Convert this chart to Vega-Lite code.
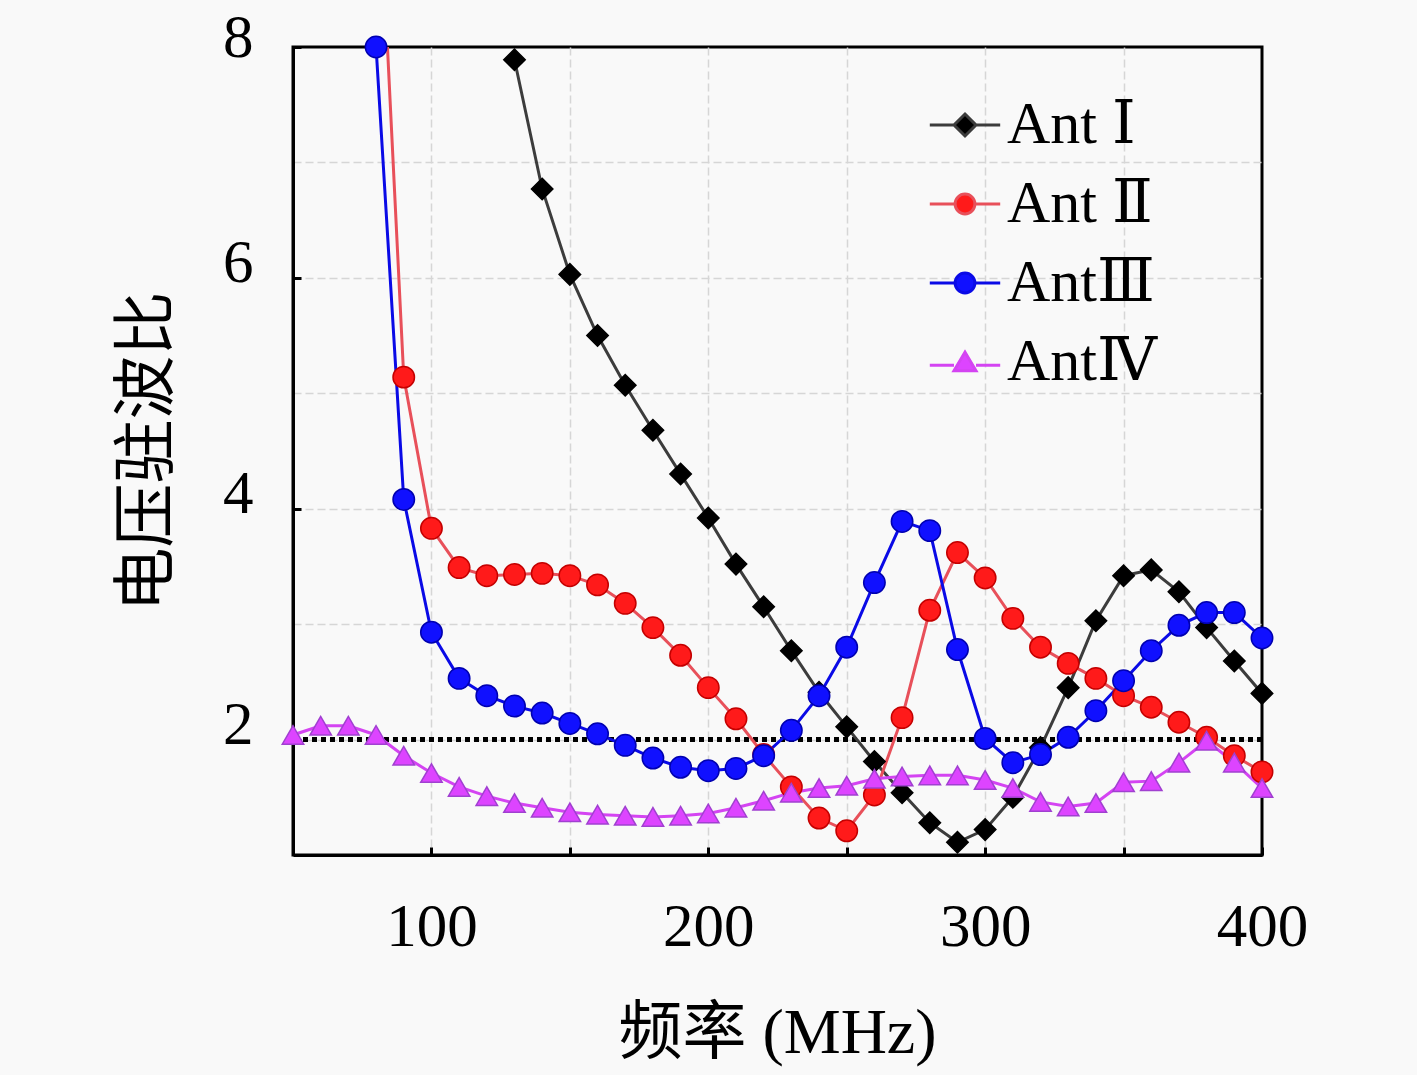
{
  "$schema": "https://vega.github.io/schema/vega-lite/v6.json",
  "width": 969,
  "height": 808,
  "autosize": {"type": "none"},
  "padding": {"left": 293, "top": 47, "right": 155, "bottom": 220},
  "background": "#f9f9f9",
  "config": {
    "view": {"stroke": "#000000", "strokeWidth": 3, "fill": "#f9f9f9"},
    "axis": {
      "labelFont": "Liberation Serif",
      "labelFontSize": 61,
      "labelColor": "#000000",
      "titleFont": "Liberation Serif, Noto Sans CJK SC",
      "titleFontSize": 64,
      "titleFontWeight": "normal",
      "titleColor": "#000000",
      "domainColor": "#000000",
      "domainWidth": 3,
      "tickColor": "#000000",
      "tickWidth": 3,
      "tickSize": -8,
      "gridColor": "#d6d6d6",
      "gridDash": [8, 4],
      "gridWidth": 1.5
    }
  },
  "data": {
    "values": [
      {"f": 130, "v": 7.89, "s": "Ant Ⅰ"}, {"f": 140, "v": 6.77, "s": "Ant Ⅰ"}, {"f": 150, "v": 6.03, "s": "Ant Ⅰ"},
      {"f": 160, "v": 5.5, "s": "Ant Ⅰ"}, {"f": 170, "v": 5.07, "s": "Ant Ⅰ"}, {"f": 180, "v": 4.68, "s": "Ant Ⅰ"},
      {"f": 190, "v": 4.3, "s": "Ant Ⅰ"}, {"f": 200, "v": 3.92, "s": "Ant Ⅰ"}, {"f": 210, "v": 3.52, "s": "Ant Ⅰ"},
      {"f": 220, "v": 3.15, "s": "Ant Ⅰ"}, {"f": 230, "v": 2.77, "s": "Ant Ⅰ"}, {"f": 240, "v": 2.41, "s": "Ant Ⅰ"},
      {"f": 250, "v": 2.11, "s": "Ant Ⅰ"}, {"f": 260, "v": 1.81, "s": "Ant Ⅰ"}, {"f": 270, "v": 1.54, "s": "Ant Ⅰ"},
      {"f": 280, "v": 1.28, "s": "Ant Ⅰ"}, {"f": 290, "v": 1.11, "s": "Ant Ⅰ"}, {"f": 300, "v": 1.22, "s": "Ant Ⅰ"},
      {"f": 310, "v": 1.5, "s": "Ant Ⅰ"}, {"f": 320, "v": 1.93, "s": "Ant Ⅰ"}, {"f": 330, "v": 2.45, "s": "Ant Ⅰ"},
      {"f": 340, "v": 3.03, "s": "Ant Ⅰ"}, {"f": 350, "v": 3.42, "s": "Ant Ⅰ"}, {"f": 360, "v": 3.47, "s": "Ant Ⅰ"},
      {"f": 370, "v": 3.28, "s": "Ant Ⅰ"}, {"f": 380, "v": 2.97, "s": "Ant Ⅰ"}, {"f": 390, "v": 2.68, "s": "Ant Ⅰ"},
      {"f": 400, "v": 2.4, "s": "Ant Ⅰ"},

      {"f": 80, "v": 10.0, "s": "Ant Ⅱ"}, {"f": 90, "v": 5.14, "s": "Ant Ⅱ"}, {"f": 100, "v": 3.83, "s": "Ant Ⅱ"},
      {"f": 110, "v": 3.49, "s": "Ant Ⅱ"}, {"f": 120, "v": 3.42, "s": "Ant Ⅱ"}, {"f": 130, "v": 3.43, "s": "Ant Ⅱ"},
      {"f": 140, "v": 3.44, "s": "Ant Ⅱ"}, {"f": 150, "v": 3.42, "s": "Ant Ⅱ"}, {"f": 160, "v": 3.34, "s": "Ant Ⅱ"},
      {"f": 170, "v": 3.18, "s": "Ant Ⅱ"}, {"f": 180, "v": 2.97, "s": "Ant Ⅱ"}, {"f": 190, "v": 2.73, "s": "Ant Ⅱ"},
      {"f": 200, "v": 2.45, "s": "Ant Ⅱ"}, {"f": 210, "v": 2.18, "s": "Ant Ⅱ"}, {"f": 220, "v": 1.87, "s": "Ant Ⅱ"},
      {"f": 230, "v": 1.59, "s": "Ant Ⅱ"}, {"f": 240, "v": 1.32, "s": "Ant Ⅱ"}, {"f": 250, "v": 1.21, "s": "Ant Ⅱ"},
      {"f": 260, "v": 1.52, "s": "Ant Ⅱ"}, {"f": 270, "v": 2.19, "s": "Ant Ⅱ"}, {"f": 280, "v": 3.12, "s": "Ant Ⅱ"},
      {"f": 290, "v": 3.62, "s": "Ant Ⅱ"}, {"f": 300, "v": 3.4, "s": "Ant Ⅱ"}, {"f": 310, "v": 3.05, "s": "Ant Ⅱ"},
      {"f": 320, "v": 2.8, "s": "Ant Ⅱ"}, {"f": 330, "v": 2.66, "s": "Ant Ⅱ"}, {"f": 340, "v": 2.53, "s": "Ant Ⅱ"},
      {"f": 350, "v": 2.38, "s": "Ant Ⅱ"}, {"f": 360, "v": 2.28, "s": "Ant Ⅱ"}, {"f": 370, "v": 2.15, "s": "Ant Ⅱ"},
      {"f": 380, "v": 2.02, "s": "Ant Ⅱ"}, {"f": 390, "v": 1.86, "s": "Ant Ⅱ"}, {"f": 400, "v": 1.72, "s": "Ant Ⅱ"},

      {"f": 80, "v": 8.0, "s": "AntⅢ"}, {"f": 90, "v": 4.08, "s": "AntⅢ"}, {"f": 100, "v": 2.93, "s": "AntⅢ"},
      {"f": 110, "v": 2.53, "s": "AntⅢ"}, {"f": 120, "v": 2.38, "s": "AntⅢ"}, {"f": 130, "v": 2.29, "s": "AntⅢ"},
      {"f": 140, "v": 2.23, "s": "AntⅢ"}, {"f": 150, "v": 2.14, "s": "AntⅢ"}, {"f": 160, "v": 2.05, "s": "AntⅢ"},
      {"f": 170, "v": 1.95, "s": "AntⅢ"}, {"f": 180, "v": 1.84, "s": "AntⅢ"}, {"f": 190, "v": 1.76, "s": "AntⅢ"},
      {"f": 200, "v": 1.73, "s": "AntⅢ"}, {"f": 210, "v": 1.75, "s": "AntⅢ"}, {"f": 220, "v": 1.86, "s": "AntⅢ"},
      {"f": 230, "v": 2.08, "s": "AntⅢ"}, {"f": 240, "v": 2.38, "s": "AntⅢ"}, {"f": 250, "v": 2.8, "s": "AntⅢ"},
      {"f": 260, "v": 3.36, "s": "AntⅢ"}, {"f": 270, "v": 3.89, "s": "AntⅢ"}, {"f": 280, "v": 3.81, "s": "AntⅢ"},
      {"f": 290, "v": 2.78, "s": "AntⅢ"}, {"f": 300, "v": 2.01, "s": "AntⅢ"}, {"f": 310, "v": 1.8, "s": "AntⅢ"},
      {"f": 320, "v": 1.87, "s": "AntⅢ"}, {"f": 330, "v": 2.02, "s": "AntⅢ"}, {"f": 340, "v": 2.25, "s": "AntⅢ"},
      {"f": 350, "v": 2.51, "s": "AntⅢ"}, {"f": 360, "v": 2.77, "s": "AntⅢ"}, {"f": 370, "v": 2.99, "s": "AntⅢ"},
      {"f": 380, "v": 3.1, "s": "AntⅢ"}, {"f": 390, "v": 3.1, "s": "AntⅢ"}, {"f": 400, "v": 2.88, "s": "AntⅢ"},

      {"f": 50, "v": 2.04, "s": "AntⅣ"}, {"f": 60, "v": 2.12, "s": "AntⅣ"}, {"f": 70, "v": 2.12, "s": "AntⅣ"},
      {"f": 80, "v": 2.04, "s": "AntⅣ"}, {"f": 90, "v": 1.86, "s": "AntⅣ"}, {"f": 100, "v": 1.71, "s": "AntⅣ"},
      {"f": 110, "v": 1.59, "s": "AntⅣ"}, {"f": 120, "v": 1.51, "s": "AntⅣ"}, {"f": 130, "v": 1.45, "s": "AntⅣ"},
      {"f": 140, "v": 1.41, "s": "AntⅣ"}, {"f": 150, "v": 1.37, "s": "AntⅣ"}, {"f": 160, "v": 1.35, "s": "AntⅣ"},
      {"f": 170, "v": 1.34, "s": "AntⅣ"}, {"f": 180, "v": 1.33, "s": "AntⅣ"}, {"f": 190, "v": 1.34, "s": "AntⅣ"},
      {"f": 200, "v": 1.36, "s": "AntⅣ"}, {"f": 210, "v": 1.41, "s": "AntⅣ"}, {"f": 220, "v": 1.47, "s": "AntⅣ"},
      {"f": 230, "v": 1.54, "s": "AntⅣ"}, {"f": 240, "v": 1.58, "s": "AntⅣ"}, {"f": 250, "v": 1.6, "s": "AntⅣ"},
      {"f": 260, "v": 1.66, "s": "AntⅣ"}, {"f": 270, "v": 1.68, "s": "AntⅣ"}, {"f": 280, "v": 1.69, "s": "AntⅣ"},
      {"f": 290, "v": 1.69, "s": "AntⅣ"}, {"f": 300, "v": 1.65, "s": "AntⅣ"}, {"f": 310, "v": 1.58, "s": "AntⅣ"},
      {"f": 320, "v": 1.46, "s": "AntⅣ"}, {"f": 330, "v": 1.42, "s": "AntⅣ"}, {"f": 340, "v": 1.45, "s": "AntⅣ"},
      {"f": 350, "v": 1.63, "s": "AntⅣ"}, {"f": 360, "v": 1.64, "s": "AntⅣ"}, {"f": 370, "v": 1.8, "s": "AntⅣ"},
      {"f": 380, "v": 1.99, "s": "AntⅣ"}, {"f": 390, "v": 1.8, "s": "AntⅣ"}, {"f": 400, "v": 1.58, "s": "AntⅣ"}
    ]
  },
  "encoding": {
    "x": {
      "field": "f",
      "type": "quantitative",
      "scale": {"domain": [50, 400], "nice": false, "zero": false},
      "axis": {
        "title": "频率 (MHz)",
        "values": [50, 100, 150, 200, 250, 300, 350, 400],
        "labelExpr": "datum.value % 100 == 0 ? datum.label : ''",
        "labelFlush": false,
        "labelPadding": 50,
        "gridOpacity": {"condition": {"test": "datum.value == 50 || datum.value == 400", "value": 0}, "value": 1},
        "titleX": 484,
        "titleY": 178,
        "titleBaseline": "middle"
      }
    },
    "y": {
      "field": "v",
      "type": "quantitative",
      "scale": {"domain": [1, 8], "nice": false, "zero": false},
      "axis": {
        "title": "电压驻波比",
        "values": [1, 2, 3, 4, 5, 6, 7, 8],
        "labelExpr": "datum.value % 2 == 0 ? datum.label : ''",
        "tickOpacity": {"condition": {"test": "datum.value % 2 == 1", "value": 0}, "value": 1},
        "gridOpacity": {"condition": {"test": "datum.value == 1 || datum.value == 8", "value": 0}, "value": 1},
        "labelPadding": 48,
        "labelOffset": {"condition": {"test": "datum.value == 8", "value": -9}, "value": -14},
        "titleX": -146,
        "titleY": 404,
        "titleAngle": -90,
        "titleBaseline": "middle",
        "titleAlign": "center"
      }
    }
  },
  "layer": [
    {
      "mark": {"type": "rule", "strokeDash": [5, 4], "strokeWidth": 3.5, "color": "#000000"},
      "encoding": {"x": null, "y": {"datum": 2}}
    },
    {
      "mark": {"type": "line", "strokeWidth": 3, "clip": true},
      "encoding": {
        "color": {
          "field": "s",
          "type": "nominal",
          "scale": {
            "domain": ["Ant Ⅰ", "Ant Ⅱ", "AntⅢ", "AntⅣ"],
            "range": ["#3c3c3c", "#e8505a", "#0a0ae6", "#d444f2"]
          },
          "legend": {
            "title": null,
            "orient": "none",
            "legendX": 642,
            "legendY": 48,
            "padding": 0,
            "labelFont": "Liberation Serif, DejaVu Serif, Noto Sans CJK SC",
            "labelFontSize": 60,
            "labelColor": "#000000",
            "labelOffset": 12,
            "rowPadding": 19,
            "symbolType": "stroke",
            "symbolSize": 484,
            "symbolStrokeWidth": 3,
            "encoding": {
              "symbols": {
                "shape": {"value": {"expr": "datum.index == 0 ? 'M-3.2,0H-1M1,0H3.2M0,-1L1,0L0,1L-1,0Z' : datum.index == 3 ? 'M-3.2,0.3H-1M1,0.3H3.2M-1,0.8L0,-0.9L1,0.8Z' : 'M-3.2,0H-0.9M0.9,0H3.2M0.9,0A0.9,0.9,0,1,1,-0.9,0A0.9,0.9,0,1,1,0.9,0Z'"}},
                "fill": {"value": {"expr": "datum.index == 0 ? '#000000' : datum.index == 1 ? '#ff1a1a' : datum.index == 2 ? '#1010ff' : '#dd44ff'"}},
                "stroke": {"value": {"expr": "scale('color', datum.value)"}},
                "strokeWidth": {"value": 3},
                "size": {"value": 484},
                "opacity": {"value": 1}
              }
            }
          }
        }
      }
    },
    {
      "transform": [{"filter": "datum.v <= 8"}],
      "mark": {"type": "point", "filled": true, "size": 460, "strokeWidth": 1.5, "opacity": 1},
      "encoding": {
        "shape": {
          "field": "s",
          "type": "nominal",
          "scale": {"range": ["diamond", "circle", "circle", "triangle-up"]},
          "legend": null
        },
        "fill": {
          "field": "s",
          "type": "nominal",
          "scale": {"range": ["#000000", "#ff1a1a", "#1010ff", "#dd44ff"]},
          "legend": null
        },
        "stroke": {
          "field": "s",
          "type": "nominal",
          "scale": {"range": ["#000000", "#c40000", "#0000b0", "#a040d0"]},
          "legend": null
        }
      }
    }
  ]
}
